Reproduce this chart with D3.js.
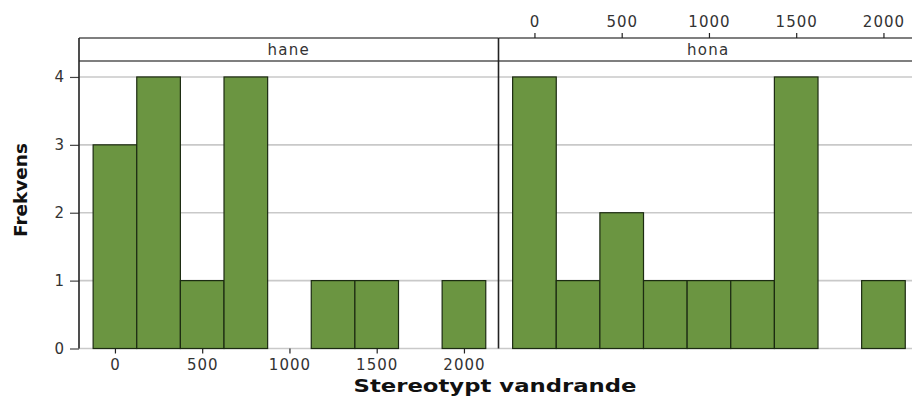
<!DOCTYPE html>
<html>
<head>
<meta charset="utf-8">
<script src="https://cdn.jsdelivr.net/npm/d3@7"></script>
<style>
  html, body { margin: 0; padding: 0; background: #fff; }
  svg { display: block; }
</style>
</head>
<body>
<svg id="chart" width="912" height="398"></svg>
<script>
// Histogram of "Stereotypt vandrande", one panel per sex
const panels = ["hane", "hona"];
const binCenters = [0, 250, 500, 750, 1000, 1250, 1500, 1750, 2000];
const binWidth = 250;
const haneCounts = [3, 4, 1, 4, 0, 1, 1, 0, 1];
const honaCounts = [4, 1, 2, 1, 1, 1, 4, 0, 1];
const xTicks = [0, 500, 1000, 1500, 2000];
const yTicks = [0, 1, 2, 3, 4];
const xTitle = "Stereotypt vandrande";
const yTitle = "Frekvens";

const countsByPanel = { hane: haneCounts, hona: honaCounts };

const svg = d3.select("#chart");

const panelLeft = 79, panelWidth = 419.5;
const stripTop = 38, stripBottom = 61, plotBottom = 348.5;

const y = d3.scaleLinear().domain([0, 4.235]).range([plotBottom, stripBottom]);
const intFmt = d3.format("d");

const fontFamily = "'DejaVu Sans', Verdana, sans-serif";
const barFill = "#6b9541";
const barStroke = "#1c2b12";
const gridColor = "#c9c9c9";
const axisColor = "#222";

panels.forEach((name, i) => {
  const x0 = panelLeft + i * panelWidth;
  const x = d3.scaleLinear().domain([-206, 2198]).range([x0, x0 + panelWidth]);
  const g = svg.append("g");

  // horizontal gridlines
  g.selectAll("line.grid").data(yTicks).enter().append("line")
    .attr("x1", x0).attr("x2", x0 + panelWidth)
    .attr("y1", d => y(d)).attr("y2", d => y(d))
    .attr("stroke", gridColor).attr("stroke-width", 1.6);

  // bars
  const bins = binCenters.map((c, k) => ({ c, n: countsByPanel[name][k] })).filter(d => d.n > 0);
  g.selectAll("rect.bar").data(bins).enter().append("rect")
    .attr("x", d => x(d.c - binWidth / 2))
    .attr("width", d => x(d.c + binWidth / 2) - x(d.c - binWidth / 2))
    .attr("y", d => y(d.n))
    .attr("height", d => y(0) - y(d.n))
    .attr("fill", barFill)
    .attr("stroke", barStroke).attr("stroke-width", 1.2);

  // strip
  g.append("line").attr("x1", x0).attr("x2", x0 + panelWidth)
    .attr("y1", stripTop).attr("y2", stripTop)
    .attr("stroke", "#555").attr("stroke-width", 1.4);
  g.append("line").attr("x1", x0).attr("x2", x0 + panelWidth)
    .attr("y1", stripBottom).attr("y2", stripBottom)
    .attr("stroke", "#555").attr("stroke-width", 1.4);
  g.append("text")
    .attr("x", x0 + panelWidth / 2).attr("y", 55)
    .attr("text-anchor", "middle")
    .attr("font-family", fontFamily).attr("font-size", 15)
    .attr("fill", "#333").attr("letter-spacing", 1.3)
    .text(name);

  // x axis: bottom on the first panel, top on the second
  const axis = (i === 0 ? d3.axisBottom(x) : d3.axisTop(x))
    .tickValues(xTicks).tickFormat(intFmt).tickSize(5).tickPadding(6);
  const ax = g.append("g")
    .attr("transform", `translate(0,${i === 0 ? plotBottom : stripTop})`)
    .call(axis);
  ax.select(".domain").remove();
  ax.selectAll(".tick line").attr("stroke", axisColor).attr("stroke-width", 1.2);
  ax.selectAll(".tick text")
    .attr("font-family", fontFamily).attr("font-size", 15)
    .attr("letter-spacing", 1)
    .attr("fill", "#333");
});

// y axis
const yAxis = d3.axisLeft(y).tickValues(yTicks).tickFormat(intFmt).tickSize(9).tickPadding(6);
const yAx = svg.append("g").attr("transform", `translate(${panelLeft},0)`).call(yAxis);
yAx.select(".domain").remove();
yAx.selectAll(".tick line").attr("stroke", "#444").attr("stroke-width", 1.2);
yAx.selectAll(".tick text")
  .attr("font-family", fontFamily).attr("font-size", 15).attr("fill", "#333");

// vertical frame lines
[panelLeft, panelLeft + panelWidth].forEach(px => {
  svg.append("line")
    .attr("x1", px).attr("x2", px)
    .attr("y1", stripTop).attr("y2", plotBottom)
    .attr("stroke", axisColor).attr("stroke-width", 1.6);
});

// axis titles
svg.append("text")
  .attr("x", 495).attr("y", 392)
  .attr("text-anchor", "middle")
  .attr("font-family", fontFamily).attr("font-size", 18).attr("font-weight", "bold")
  .attr("fill", "#111")
  .attr("textLength", 283).attr("lengthAdjust", "spacingAndGlyphs")
  .text(xTitle);

svg.append("text")
  .attr("transform", "translate(27,190) rotate(-90)")
  .attr("text-anchor", "middle")
  .attr("font-family", fontFamily).attr("font-size", 17).attr("font-weight", "bold")
  .attr("fill", "#111")
  .attr("textLength", 94).attr("lengthAdjust", "spacingAndGlyphs")
  .text(yTitle);
</script>
</body>
</html>
